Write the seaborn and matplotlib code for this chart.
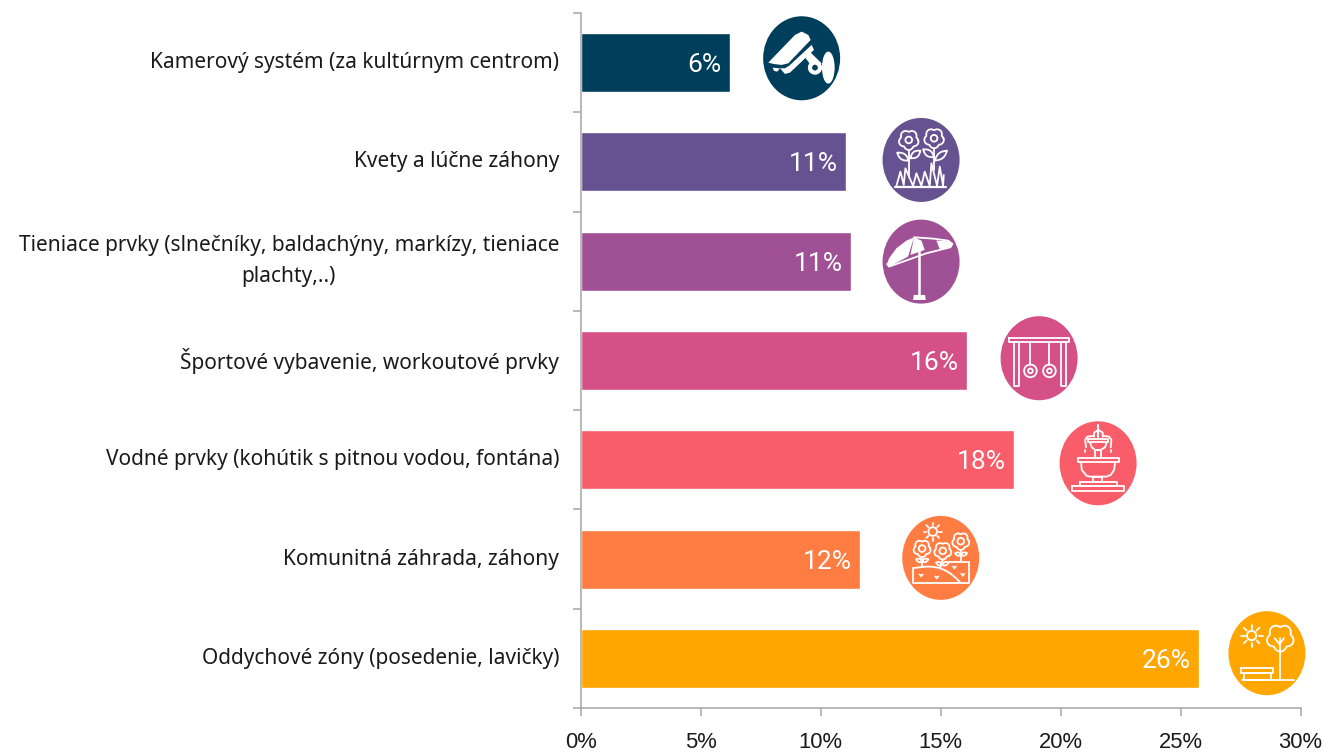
import numpy as np
import pandas as pd
import matplotlib
matplotlib.use("Agg")
import matplotlib.pyplot as plt
from matplotlib.patches import Ellipse, Polygon, Circle, Rectangle
from matplotlib.lines import Line2D
from matplotlib.transforms import Affine2D
import seaborn as sns

categories = ["Kamerový systém (za kultúrnym centrom)", "Kvety a lúčne záhony",
              "Tieniace prvky (slnečníky, baldachýny, markízy, tieniace\nplachty,..)",
              "Športové vybavenie, workoutové prvky",
              "Vodné prvky (kohútik s pitnou vodou, fontána)",
              "Komunitná záhrada, záhony", "Oddychové zóny (posedenie, lavičky)"]
values = [6.2, 11.05, 11.26, 16.1, 18.04, 11.63, 25.77]
colors = ["#003f5c", "#665191", "#a05195", "#d45087", "#f95d6a", "#ff7c43", "#ffa600"]
icon_x = [9.2, 14.18, 14.18, 19.1, 21.56, 15.0, 28.6]
icon_y = [-0.044, 0.98, 2.004, 2.977, 4.035, 4.988, 5.948]
xticks = [0, 5, 10, 15, 20, 25, 30]
xticklabels = ["0%", "5%", "10%", "15%", "20%", "25%", "30%"]

W, H = 1324, 752
sns.set_theme(style="white")
plt.rcParams["font.family"] = ["Noto Sans", "DejaVu Sans"]
fig = plt.figure(figsize=(W / 100, H / 100), dpi=100, facecolor="white")
ax = fig.add_axes([581 / W, (H - 708) / H, (1300.5 - 581) / W, (708 - 13) / H])

df = pd.DataFrame({"cat": categories, "val": values})
sns.barplot(data=df, y="cat", x="val", hue="cat", palette=colors, hue_order=categories,
            order=categories, orient="h", width=0.594, saturation=1, dodge=False,
            legend=False, ax=ax)
ax.set_xlim(0, 30)
ax.set_ylim(6.5, -0.5)
ax.set_xlabel("")
ax.set_ylabel("")
GREY = "#a6a6a6"
for s in ("top", "right"):
    ax.spines[s].set_visible(False)
for s in ("left", "bottom"):
    ax.spines[s].set_color(GREY)
    ax.spines[s].set_linewidth(1.1)
ax.set_xticks(xticks, xticklabels, fontsize=15.8, color="#1a1a1a", family="Liberation Sans")
ax.tick_params(axis="x", length=6, width=1.1, color=GREY, pad=11, bottom=True)
ax.set_yticks(np.arange(-0.5, 7.0, 1.0), [""] * 8)
ax.set_yticks(np.arange(7), categories, minor=True, fontsize=15, color="#1a1a1a",
              ha="right", va="center", multialignment="center", linespacing=1.65)
ax.tick_params(axis="y", which="major", length=6, width=1.1, color=GREY, left=True)
ax.tick_params(axis="y", which="minor", length=0, pad=15.8, left=False)

for cont, v in zip(ax.containers, values):
    for txt in ax.bar_label(cont, labels=[f"{v:.0f}%"], padding=-6,
                            color="white", fontsize=19, family="Roboto"):
        txt.set_ha("right")
        txt.set_va("center_baseline")


def icon_axes(i, zx, zy):
    px, py = ax.transData.transform((icon_x[i], icon_y[i]))
    return Affine2D().translate(-zx, -zy).scale(1 / 3, -1 / 3).translate(px, py)


def disc(tr, zx, zy, c):
    ax.add_patch(Ellipse((zx, zy), 231, 252, fc=c, ec="none", transform=tr, clip_on=False, zorder=5))


LW = 1.3


def ln(tr, pts, lw=LW):
    p = np.array(pts, float)
    ax.add_line(Line2D(p[:, 0], p[:, 1], color="white", lw=lw, transform=tr, clip_on=False,
                       zorder=6, solid_capstyle="round", solid_joinstyle="round"))


def fill(tr, pts, c="white"):
    ax.add_patch(Polygon(pts, closed=True, fc=c, ec="none", transform=tr, clip_on=False, zorder=6))


def ring(tr, x, y, r, lw=LW, fc="none"):
    ax.add_patch(Circle((x, y), r, fc=fc, ec="white", lw=lw, transform=tr, clip_on=False, zorder=6))


def box(tr, x0, y0, x1, y1, lw=LW):
    ln(tr, [(x0, y0), (x1, y0), (x1, y1), (x0, y1), (x0, y0)], lw)


def flower(tr, x, y, R, r):
    t = np.linspace(0, 2 * np.pi, 120)
    rad = R * (0.80 + 0.20 * np.abs(np.cos(2.5 * (t - np.pi / 2))))
    ln(tr, np.c_[x + rad * np.cos(t), y + rad * np.sin(t)])
    ring(tr, x, y, r)


def leaf(tr, x0, y0, x1, y1, w=10):
    t = np.linspace(0, 1, 20)
    dx, dy = x1 - x0, y1 - y0
    n = np.array([-dy, dx]) / np.hypot(dx, dy)
    b = np.sin(np.pi * t) * w
    a = np.c_[x0 + dx * t + n[0] * b, y0 + dy * t + n[1] * b]
    c = np.c_[x0 + dx * t - n[0] * b, y0 + dy * t - n[1] * b][::-1]
    ln(tr, np.r_[a, c])


def sun(tr, x, y, r, r0, r1):
    ring(tr, x, y, r)
    for a in np.arange(8) * np.pi / 4:
        ln(tr, [(x + r0 * np.cos(a), y + r0 * np.sin(a)), (x + r1 * np.cos(a), y + r1 * np.sin(a))])


# camera
tr = icon_axes(0, 185, 175)
disc(tr, 185, 175, colors[0])
fill(tr, [(85, 188), (165, 105), (185, 95), (205, 105), (212, 120), (145, 190), (125, 195), (100, 192)])
fill(tr, [(98, 203), (115, 205), (135, 205), (148, 197), (215, 135), (222, 150), (150, 218), (135, 222), (120, 205), (112, 215), (102, 213)])
fill(tr, [(195, 172), (212, 158), (245, 190), (235, 200), (225, 190), (212, 195)])
ring(tr, 225, 203, 15, lw=3)
ax.add_patch(Ellipse((265, 203), 38, 96, fc="white", ec="none", transform=tr, clip_on=False, zorder=6))

# flowers
tr = icon_axes(1, 544, 480)
disc(tr, 544, 480, colors[1])
flower(tr, 507, 420, 30, 10)
flower(tr, 583, 415, 30, 10)
ln(tr, [(507, 450), (507, 530)])
ln(tr, [(583, 445), (583, 510)])
leaf(tr, 507, 482, 472, 458, 9)
leaf(tr, 512, 475, 542, 452, 9)
leaf(tr, 583, 472, 550, 448, 9)
leaf(tr, 585, 482, 622, 452, 9)
ln(tr, [(470, 558), (482, 515), (492, 555), (497, 505), (520, 558), (530, 520), (545, 558), (555, 515), (570, 558), (575, 490), (592, 558), (600, 500), (610, 558), (612, 525)])
ln(tr, [(465, 562), (618, 562)], 1.6)

# umbrella
tr = icon_axes(2, 544, 785)
disc(tr, 544, 785, colors[2])
fill(tr, [(523, 712), (500, 722), (470, 745), (448, 775), (442, 792), (448, 800), (505, 770)])
fill(tr, [(523, 712), (512, 765), (555, 750), (545, 722)])
fill(tr, [(545, 716), (590, 716), (625, 724), (638, 730), (632, 740), (575, 745)], colors[2])
ln(tr, [(523, 712), (580, 716), (625, 722), (638, 732), (632, 742), (560, 760), (448, 800), (442, 792)])
fill(tr, [(590, 722), (625, 724), (638, 732), (632, 742), (600, 748)])
ln(tr, [(538, 740), (538, 885)], 1.8)
fill(tr, [(520, 900), (522, 885), (556, 885), (558, 900)])

# rings
tr = icon_axes(3, 447, 145)
disc(tr, 447, 145, colors[3])
box(tr, 357, 83, 538, 97)
box(tr, 372, 97, 388, 228)
box(tr, 512, 97, 528, 228)
for x in (421, 478):
    ln(tr, [(x, 97), (x, 165)])
    ring(tr, x, 183, 19)
    ring(tr, x, 183, 7)

# fountain
tr = icon_axes(4, 624, 460)
disc(tr, 624, 460, colors[4])
box(tr, 547, 527, 703, 542)
box(tr, 570, 517, 680, 527)
box(tr, 610, 500, 635, 517)
box(tr, 563, 443, 686, 457)
ln(tr, [(573, 457), (575, 480), (590, 498), (600, 500), (650, 500), (662, 495), (672, 480), (675, 457)])
box(tr, 615, 420, 632, 443)
box(tr, 595, 388, 655, 397)
ln(tr, [(600, 397), (605, 412), (615, 420), (632, 420), (645, 412), (650, 397)])
ln(tr, [(625, 345), (625, 382)], 1.5)
ln(tr, [(612, 380), (612, 368), (625, 360), (638, 368), (638, 380)])
ln(tr, [(588, 412), (585, 390), (592, 380), (610, 378)])
ln(tr, [(662, 412), (664, 390), (657, 380), (640, 378)])
ln(tr, [(586, 420), (586, 425)])
ln(tr, [(662, 420), (662, 425)])

# garden
tr = icon_axes(5, 152, 744)
disc(tr, 152, 744, colors[5])
sun(tr, 128, 665, 13, 19, 27)
flower(tr, 96, 716, 26, 10)
flower(tr, 158, 723, 26, 10)
flower(tr, 212, 694, 26, 10)
ln(tr, [(96, 742), (96, 770)])
ln(tr, [(158, 749), (150, 775)])
ln(tr, [(212, 720), (212, 752)])
leaf(tr, 96, 755, 78, 748, 5)
leaf(tr, 96, 755, 115, 748, 5)
leaf(tr, 155, 765, 138, 758, 5)
leaf(tr, 155, 765, 176, 758, 5)
leaf(tr, 212, 735, 195, 730, 5)
leaf(tr, 212, 735, 231, 730, 5)
t = np.linspace(0, 1, 20)
ln(tr, np.c_[70 + 140 * t, 775 - 8 * np.sin(np.pi * t * 0.9) + 45 * t ** 3])
ln(tr, [(70, 775), (70, 820), (237, 820), (237, 755), (178, 755)])
for hx, hy in [(93, 797), (140, 803), (193, 773), (218, 795)]:
    fill(tr, [(hx - 8, hy - 4), (hx - 4, hy - 6), (hx, hy - 3), (hx + 4, hy - 6), (hx + 8, hy - 4), (hx, hy + 6)])

# bench and tree
tr = icon_axes(6, 1132, 1030)
disc(tr, 1132, 1030, colors[6])
sun(tr, 1086, 977, 14, 21, 33)
t = np.linspace(0, 2 * np.pi, 200)
rad = 32 + 9 * np.abs(np.cos(2.5 * (t - np.pi / 2)))
ln(tr, np.c_[1172 + rad * np.cos(t), 984 + rad * np.sin(t)])
ln(tr, [(1170, 985), (1170, 1110)])
ln(tr, [(1155, 985), (1170, 1003), (1183, 985)])
ln(tr, [(1057, 1110), (1212, 1110)])
box(tr, 1055, 1073, 1150, 1090)
box(tr, 1063, 1090, 1143, 1110)

fig.savefig("out.png", dpi=100, facecolor="white")
